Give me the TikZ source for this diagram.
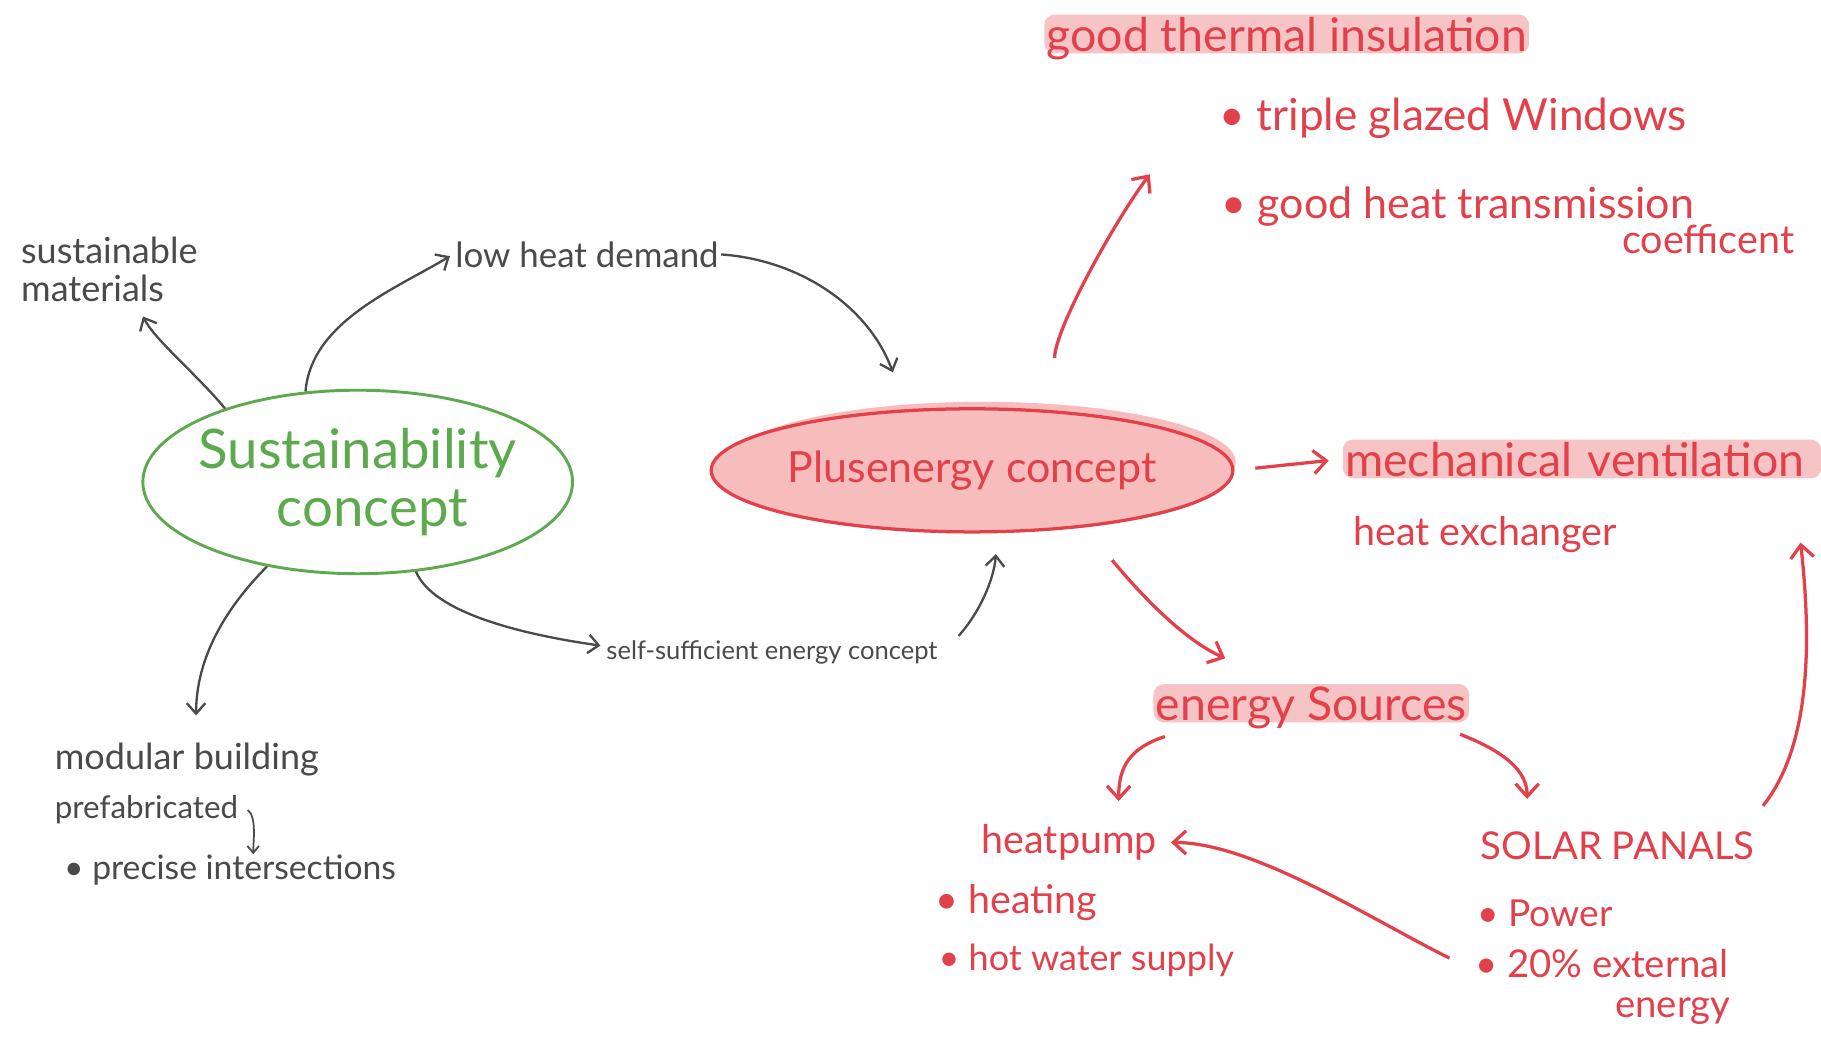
\documentclass[tikz,border=0pt]{standalone}
\usepackage{fontspec}
\setmainfont{Lato}
\usetikzlibrary{shapes.geometric,arrows.meta,calc}
\definecolor{ink}{HTML}{4A4A4A}
\definecolor{grn}{HTML}{5DAA4E}
\definecolor{rd}{HTML}{E2404A}
\definecolor{pinkf}{HTML}{F7BCBC}
\definecolor{hlpink}{HTML}{F6C4C4}
\begin{document}
\begin{tikzpicture}[x=1pt,y=-1pt,
  gtext/.style={text=ink, inner sep=2pt, font=\fontsize{#1}{#1}\selectfont},
  rtext/.style={text=rd, inner sep=2pt, font=\fontsize{#1}{#1}\selectfont},
  garr/.style={draw=ink, line width=2pt, -{Straight Barb[length=9pt,width=16pt]}},
  garrs/.style={draw=ink, line width=1.5pt, -{Straight Barb[length=6pt,width=10pt]}},
  rarr/.style={draw=rd, line width=2.8pt, -{Straight Barb[length=11pt,width=20pt]}},
  hl/.style={fill=hlpink, rounded corners=9pt, text depth=0pt, inner xsep=6pt, inner ysep=3pt},
]
\useasboundingbox (0,0) rectangle (1568,894);
\fill[white] (0,0) rectangle (1568,894);

% ---------- left (gray / green) ----------
\node[ellipse, draw=grn, line width=2.5pt, minimum width=370pt, minimum height=158pt,
      inner sep=-30pt, text=grn, align=center, font=\fontsize{47}{50}\selectfont]
      (sus) at (308,415) {Sustainability\\\hspace*{25pt}concept};

\node[gtext=31, anchor=base west, align=left, font=\fontsize{31}{33}\selectfont]
      (mat) at (16,260) {sustainable\\materials};
\node[gtext=30, anchor=base west] (low) at (390,230) {low heat demand};
\node[gtext=22, anchor=base west] (self) at (520,568) {self-sufficient energy concept};
\node[gtext=31, anchor=base west] (mod) at (45,663) {modular building};
\node[gtext=27, anchor=base west] (pre) at (45,705) {prefabricated};
\node[gtext=29, anchor=base west] (pis) at (53,757) {\textbullet\ precise intersections};

% ---------- plus energy ----------
\fill[pinkf] (846,398) ellipse [x radius=218pt, y radius=52pt];
\node[ellipse, draw=rd, fill=pinkf, line width=2.8pt, minimum width=440pt, minimum height=106pt,
      inner sep=0pt, text=rd, font=\fontsize{37}{40}\selectfont]
      (plus) at (837,405) {Plusenergy concept};

% ---------- right (red) ----------
\node[hl, rtext=40, anchor=base west] (therm) at (899,44) {good thermal insulation};
\node[rtext=38, anchor=base west] (tri) at (1048,112) {\textbullet\ triple glazed Windows};
\node[rtext=37, anchor=base west] (ght) at (1050,188) {\textbullet\ good heat transmission};
\node[rtext=34, anchor=base east] (coef) at (1547,218) {coefficent};

\node[hl, rtext=40, anchor=base west, text width=408pt, align=left] (mech) at (1156,410) {mechanical ventilation};
\node[rtext=34, anchor=base west] (hex) at (1163,470) {heat exchanger};

\node[hl, rtext=40, anchor=base west] (energy) at (993,620) {energy Sources};

\node[rtext=34, anchor=base west] (hp) at (843,735) {heatpump};
\node[rtext=34, anchor=base west] (heat) at (803,787) {\textbullet\ heating};
\node[rtext=31, anchor=base west] (hws) at (806,836) {\textbullet\ hot water supply};

\node[rtext=33, anchor=base west] (solar) at (1273,740) {SOLAR PANALS};
\node[rtext=32, anchor=base west] (pow) at (1270,798) {\textbullet\ Power};
\node[rtext=33, anchor=base west] (ext) at (1268,842) {\textbullet\ 20\% external};
\node[rtext=33, anchor=base east] (extb) at (1492,876) {energy};

% ---------- gray connectors ----------
\draw[garr] (sus.151) .. controls +(-25,-30) and +(10,20) .. ($(mat.south)+(29,10)$);
\draw[garr, shorten >=3pt] (sus.120) .. controls +(5,-60) and +(-50,30) .. (low.west);
\draw[garr] (low.east) .. controls +(70,5) and +(-20,-55) .. ($(plus.129)+(-25,-31)$);
\draw[garr] (sus.-57) .. controls +(15,35) and +(-70,-10) .. ($(self.west)+(-3,-6)$);
\draw[garr, shorten >=18pt] ($(self.north east)+(16,-2)$) .. controls +(18,-20) and +(-3,40) .. (plus.-68);
\draw[garr] (sus.-137) .. controls +(-35,35) and +(0,-50) .. ($(mod.north)+(8,-22)$);
\draw[garrs] ($(pre.east)+(6,0)$) .. controls +(8,6) and +(0,-10) .. ($(pis.north west)+(165,2)$);

% ---------- red connectors ----------
\draw[rarr, shorten <=45pt] (plus.36) .. controls +(0,-70) and +(-30,40) .. ($(tri.south west)+(-58,29)$);
\draw[rarr, shorten <=18pt, shorten >=12pt] (plus.east) -- (mech.west);
\draw[rarr, shorten <=37pt] (plus.-27) .. controls +(30,35) and +(-45,-20) .. ($(energy.north west)+(62,-22)$);
\draw[rarr] ($(energy.south west)+(10,12)$) .. controls +(-30,10) and +(0,-30) .. ($(hp.north east)+(-35,-18)$);
\draw[rarr] ($(energy.south east)+(-8,10)$) .. controls +(25,10) and +(0,-30) .. ($(solar.north west)+(42,-26)$);
\draw[rarr] ($(solar.north east)+(5,-20)$) .. controls +(40,-50) and +(10,90) .. ($(mech.south east)+(-18,55)$);
\draw[rarr, shorten >=10pt] ($(ext.west)+(-20,-5)$) .. controls +(-70,-35) and +(80,0) .. (hp.east);
\end{tikzpicture}
\end{document}
